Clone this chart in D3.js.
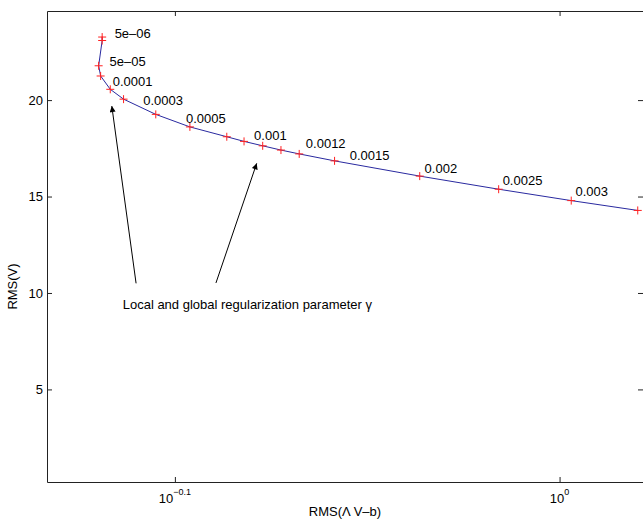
<!DOCTYPE html>
<html lang="en">
<head>
  <meta charset="UTF-8">
  <title>L-curve</title>
  <script src="https://d3js.org/d3.v7.min.js"></script>
  <style>
    body { margin: 0; background: #fff; overflow: hidden; }
    svg { display: block; font-family: "Liberation Sans", Arial, sans-serif; }
  </style>
</head>
<body>
  <svg id="chart"></svg>
  <script>
    // residual norm RMS(ΛV-b) and solution norm RMS(V) for each gamma
    const residual = [0.7605, 0.7605, 0.7589, 0.7598, 0.7642, 0.7703, 0.7853, 0.8015, 0.8194,
      0.8279, 0.8372, 0.8464, 0.8557, 0.8740, 0.9197, 0.9642, 1.0070, 1.0479];
    const solution = [23.27, 23.09, 21.78, 21.25, 20.56, 20.05, 19.26, 18.61, 18.10,
      17.86, 17.63, 17.41, 17.21, 16.85, 16.06, 15.38, 14.79, 14.28];

    // gamma labels, anchored in data units
    const labelText = ['5e\u201306', '5e\u201305', '0.0001', '0.0003', '0.0005', '0.001',
      '0.0012', '0.0015', '0.002', '0.0025', '0.003'];
    const labelX = [0.7662, 0.7639, 0.7653, 0.7794, 0.7996, 0.8329, 0.8591, 0.8820, 0.9224, 0.9665, 1.0096];
    const labelY = [23.48, 22.02, 20.99, 20.00, 19.07, 18.18, 17.77, 17.15, 16.47, 15.85, 15.28];

    // annotation arrows (tail -> head), data units
    const arrowFrom = [[0.7761, 10.50], [0.8141, 10.52]];
    const arrowTo = [[0.7649, 19.69], [0.8342, 16.72]];
    const noteText = 'Local and global regularization parameter \u03b3';
    const noteAt = [0.7699, 9.41];

    const xTicks = [Math.pow(10, -0.1), 1];
    const xTickExp = ['\u22120.1', '0'];
    const yTicks = [5, 10, 15, 20];

    const width = 643, height = 521;
    const margin = { top: 11, right: 0, bottom: 39, left: 47 };
    const iw = width - margin.left - margin.right;
    const ih = height - margin.top - margin.bottom;
    const fs = 13;

    const svg = d3.select('#chart').attr('width', width).attr('height', height);
    const g = svg.append('g').attr('transform', `translate(${margin.left},${margin.top})`);

    const x = d3.scaleLog().domain([0.7358, 1.0512]).range([0, iw]);
    const y = d3.scaleLinear().domain([0.2, 24.62]).range([ih, 0]);

    const defs = svg.append('defs');
    defs.append('clipPath').attr('id', 'clip')
      .append('rect').attr('width', iw).attr('height', ih);

    defs.append('marker')
      .attr('id', 'head')
      .attr('viewBox', '0 0 10 10')
      .attr('refX', 10).attr('refY', 5)
      .attr('markerWidth', 11).attr('markerHeight', 6)
      .attr('markerUnits', 'userSpaceOnUse')
      .attr('orient', 'auto')
      .append('path').attr('d', 'M0,0L10,5L0,10Z').attr('fill', '#000');

    // axes, ticks inward on all four sides
    const tickLen = 5;
    const axisColor = '#222';
    g.append('g').attr('transform', `translate(0,${ih})`)
      .call(d3.axisBottom(x).tickValues(xTicks).tickSizeInner(-tickLen).tickSizeOuter(0).tickFormat(''))
      .call(a => a.select('.domain').attr('stroke', axisColor));
    g.append('g')
      .call(d3.axisTop(x).tickValues(xTicks).tickSizeInner(-tickLen).tickSizeOuter(0).tickFormat(''))
      .call(a => a.select('.domain').attr('stroke', axisColor));
    g.append('g')
      .call(d3.axisLeft(y).tickValues(yTicks).tickSizeInner(-tickLen).tickSizeOuter(0).tickPadding(4))
      .call(a => a.select('.domain').attr('stroke', axisColor))
      .call(a => a.selectAll('text').attr('font-size', fs).attr('fill', '#000')
        .attr('font-family', '"Liberation Sans", Arial, sans-serif'));
    g.append('g').attr('transform', `translate(${iw},0)`)
      .call(d3.axisRight(y).tickValues(yTicks).tickSizeInner(-tickLen).tickSizeOuter(0).tickFormat(''))
      .call(a => a.select('.domain').attr('stroke', axisColor));
    g.selectAll('.tick line').attr('stroke', axisColor);

    // log tick labels 10^e
    const xl = g.append('g').selectAll('text.xlab')
      .data(xTicks)
      .enter()
      .append('text')
      .attr('class', 'xlab')
      .attr('x', d => x(d))
      .attr('y', ih + 20.5)
      .attr('text-anchor', 'middle')
      .attr('font-size', fs);
    xl.append('tspan').text('10');
    xl.append('tspan').attr('dy', -8).attr('font-size', 9).text((d, i) => xTickExp[i]);

    // curve and markers
    const pts = residual.map((r, i) => [r, solution[i]]);
    const plot = g.append('g').attr('clip-path', 'url(#clip)');
    plot.append('path')
      .datum(pts)
      .attr('fill', 'none')
      .attr('stroke', '#2a2aa0')
      .attr('stroke-width', 1)
      .attr('d', d3.line().x(d => x(d[0])).y(d => y(d[1])));

    plot.selectAll('path.plus')
      .data(pts)
      .enter()
      .append('path')
      .attr('class', 'plus')
      .attr('transform', d => `translate(${x(d[0])},${y(d[1])})`)
      .attr('d', 'M-4,0H4M0,-4V4')
      .attr('stroke', '#ff2020')
      .attr('stroke-width', 1);

    // gamma labels
    g.selectAll('text.glab')
      .data(labelText)
      .enter()
      .append('text')
      .attr('class', 'glab')
      .attr('x', (d, i) => x(labelX[i]))
      .attr('y', (d, i) => y(labelY[i]))
      .attr('dy', '0.35em')
      .attr('font-size', fs)
      .text(d => d);

    // arrows and note
    g.selectAll('line.arrow')
      .data(arrowFrom)
      .enter()
      .append('line')
      .attr('class', 'arrow')
      .attr('x1', d => x(d[0]))
      .attr('y1', d => y(d[1]))
      .attr('x2', (d, i) => x(arrowTo[i][0]))
      .attr('y2', (d, i) => y(arrowTo[i][1]))
      .attr('stroke', '#000')
      .attr('stroke-width', 1)
      .attr('marker-end', 'url(#head)');

    g.append('text')
      .attr('x', x(noteAt[0]))
      .attr('y', y(noteAt[1]))
      .attr('dy', '0.35em')
      .attr('font-size', fs)
      .text(noteText);

    // axis titles
    svg.append('text')
      .attr('x', margin.left + iw / 2)
      .attr('y', height - 5)
      .attr('text-anchor', 'middle')
      .attr('font-size', fs)
      .text('RMS(\u039b V\u2013b)');

    svg.append('text')
      .attr('transform', `translate(17,${margin.top + ih / 2 + 40}) rotate(-90)`)
      .attr('text-anchor', 'middle')
      .attr('font-size', fs)
      .text('RMS(V)');
  </script>
</body>
</html>
